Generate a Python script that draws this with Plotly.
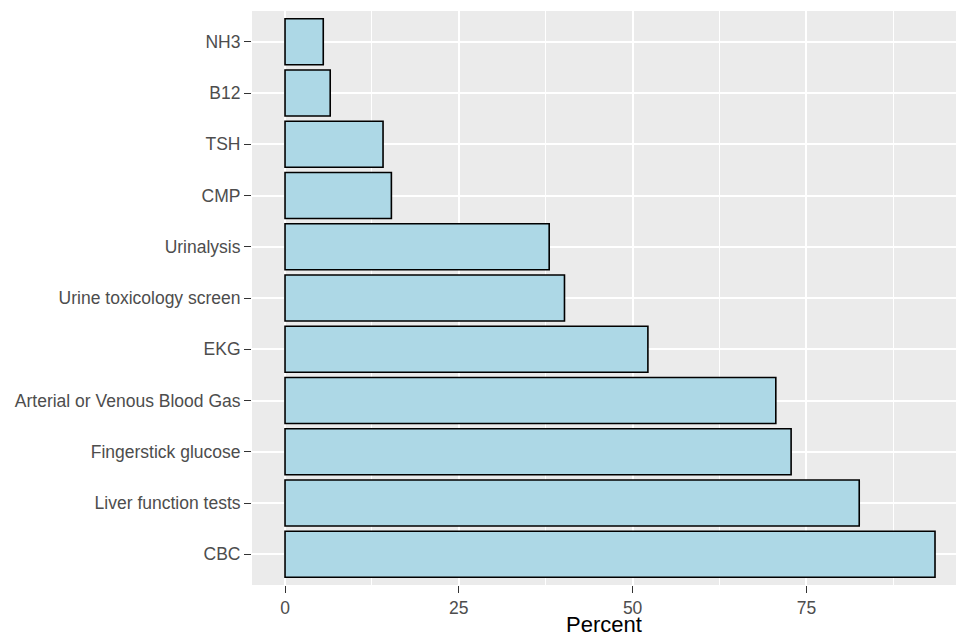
import plotly.graph_objects as go

# Categories, from bottom to top of the chart
categories = [
    "CBC",
    "Liver function tests",
    "Fingerstick glucose",
    "Arterial or Venous Blood Gas",
    "EKG",
    "Urine toxicology screen",
    "Urinalysis",
    "CMP",
    "TSH",
    "B12",
    "NH3",
]
percent = [93.5, 82.6, 72.8, 70.6, 52.2, 40.2, 38.0, 15.3, 14.1, 6.5, 5.5]

x_ticks = [0, 25, 50, 75]
x_tick_labels = ["0", "25", "50", "75"]

FONT = "Liberation Sans, Arial, Helvetica, sans-serif"

fig = go.Figure(
    go.Bar(
        x=percent,
        y=categories,
        orientation="h",
        width=0.9,
        marker=dict(color="#ADD8E6", line=dict(color="black", width=1.6)),
        hoverinfo="x+y",
    )
)

fig.update_layout(
    width=956,
    height=637,
    margin=dict(l=252, r=0, t=11, b=52, pad=0, autoexpand=False),
    paper_bgcolor="white",
    plot_bgcolor="#EBEBEB",
    showlegend=False,
    font=dict(family=FONT, color="#4D4D4D"),
    bargap=0.1,
)

fig.update_xaxes(
    automargin=False,
    range=[-4.75, 96.52],
    tickmode="array",
    tickvals=x_ticks,
    ticktext=x_tick_labels,
    ticks="outside",
    ticklen=7,
    tickwidth=1.3,
    tickcolor="#333333",
    tickfont=dict(size=17.5, color="#4D4D4D", family=FONT),
    showgrid=True,
    gridcolor="white",
    gridwidth=1.8,
    minor=dict(dtick=12.5, tick0=0, showgrid=True, gridcolor="white", gridwidth=0.9, ticks=""),
    zeroline=False,
    showline=False,
    title=dict(text="Percent", font=dict(size=22, color="black", family=FONT), standoff=9),
    fixedrange=True,
)

fig.update_yaxes(
    automargin=False,
    categoryorder="array",
    categoryarray=categories,
    range=[-0.6, 10.6],
    ticks="outside",
    ticklen=7,
    tickwidth=1.3,
    tickcolor="#333333",
    tickfont=dict(size=17.5, color="#4D4D4D", family=FONT),
    showgrid=True,
    gridcolor="white",
    gridwidth=1.8,
    zeroline=False,
    showline=False,
    fixedrange=True,
)

# Remove the browser's default page margin so the figure fills the window
fig.write_html(
    "out.html",
    config={"displayModeBar": False},
    post_script="document.body.style.margin='0px';document.body.style.overflow='hidden';",
)
